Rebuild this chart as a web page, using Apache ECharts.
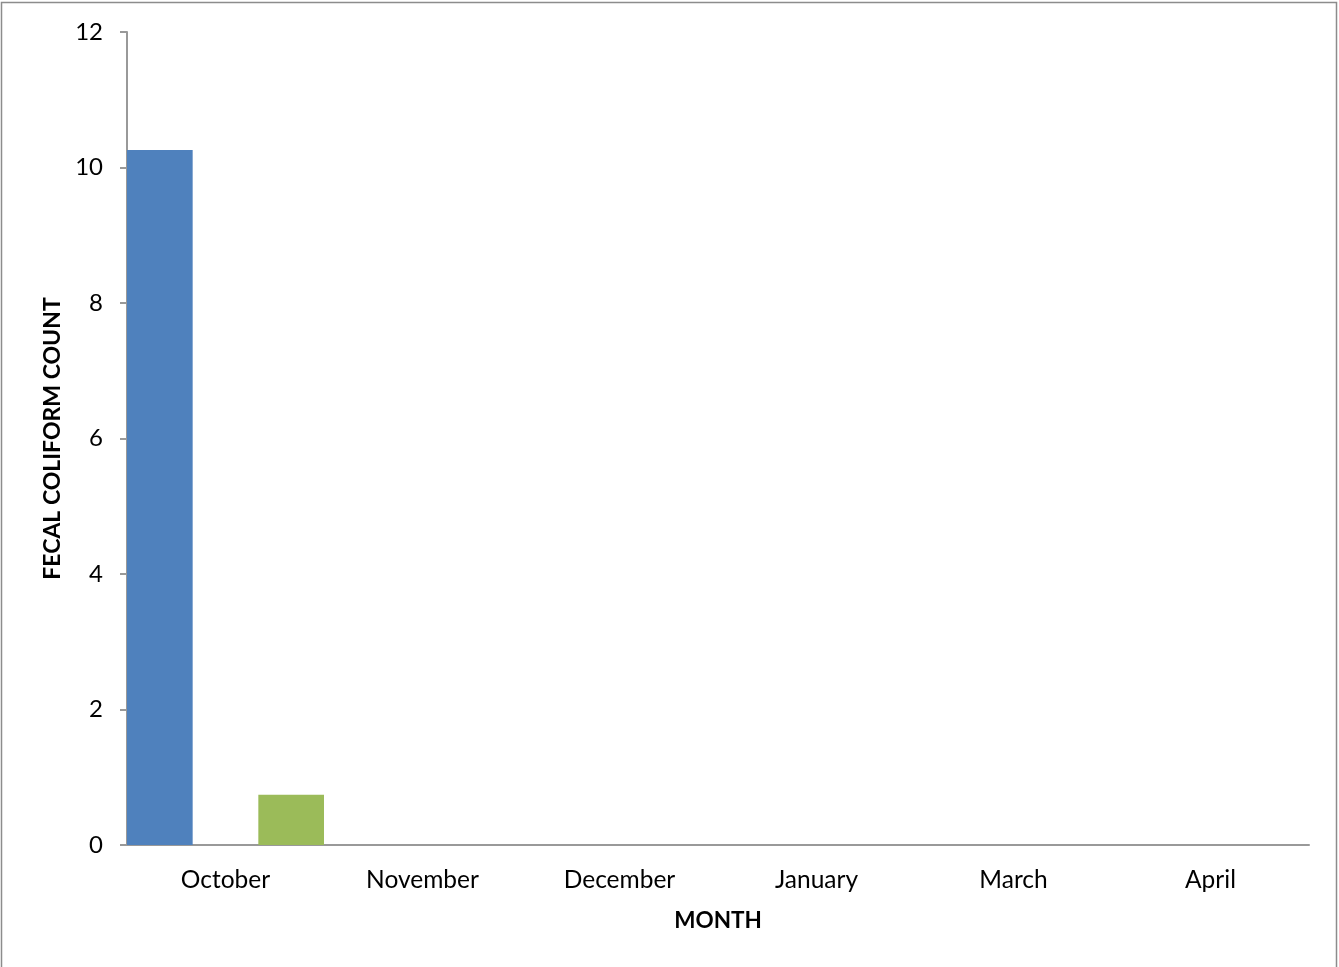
<!DOCTYPE html>
<html>
<head>
<meta charset="utf-8">
<script src="https://cdn.jsdelivr.net/npm/echarts@6/dist/echarts.min.js"></script>
<style>
html,body{margin:0;padding:0;background:#fff;}
#chart{width:1339px;height:967px;}
</style>
</head>
<body>
<div id="chart"></div>
<script>
const categories = ['October', 'November', 'December', 'January', 'March', 'April'];
const series1 = [10.26, 0, 0, 0, 0, 0];
const series2 = [0, 0, 0, 0, 0, 0];
const series3 = [0.74, 0, 0, 0, 0, 0];
const yTicks = [0, 2, 4, 6, 8, 10, 12];

const font = 'Lato, "Open Sans", sans-serif';
const chart = echarts.init(document.getElementById('chart'));
chart.setOption({
  animation: false,
  backgroundColor: '#fff',
  graphic: [{
    type: 'rect',
    shape: { x: 1.5, y: 2.5, width: 1335, height: 980 },
    style: { fill: 'none', stroke: '#8c8c8c', lineWidth: 1.5 },
    silent: true
  }],
  grid: { left: 127, right: 30, top: 32, bottom: 122, containLabel: false },
  xAxis: {
    type: 'category',
    data: categories,
    name: 'MONTH',
    nameLocation: 'middle',
    nameGap: 64,
    nameTextStyle: { fontFamily: font, fontWeight: 'bold', fontSize: 22.5, color: '#000' },
    axisLine: { show: true, lineStyle: { color: '#999', width: 2 } },
    axisTick: { show: false },
    axisLabel: { fontFamily: font, fontSize: 24.5, color: '#000', margin: 23 }
  },
  yAxis: {
    type: 'value',
    min: yTicks[0],
    max: yTicks[yTicks.length - 1],
    interval: 2,
    name: 'FECAL COLIFORM COUNT',
    nameLocation: 'middle',
    nameGap: 62,
    nameTextStyle: { fontFamily: font, fontWeight: 'bold', fontSize: 23, color: '#000' },
    axisLine: { show: true, lineStyle: { color: '#999', width: 2 } },
    axisTick: { show: true, length: 7, lineStyle: { color: '#999', width: 2 } },
    splitLine: { show: false },
    axisLabel: { fontFamily: font, fontSize: 24, color: '#000', margin: 24 }
  },
  series: [
    { type: 'bar', data: series1, itemStyle: { color: '#4F81BD' }, barGap: '0%', barCategoryGap: '0%' },
    { type: 'bar', data: series2, itemStyle: { color: '#C0504D' }, barGap: '0%', barCategoryGap: '0%' },
    { type: 'bar', data: series3, itemStyle: { color: '#9BBB59' }, barGap: '0%', barCategoryGap: '0%' }
  ]
});
</script>
</body>
</html>
